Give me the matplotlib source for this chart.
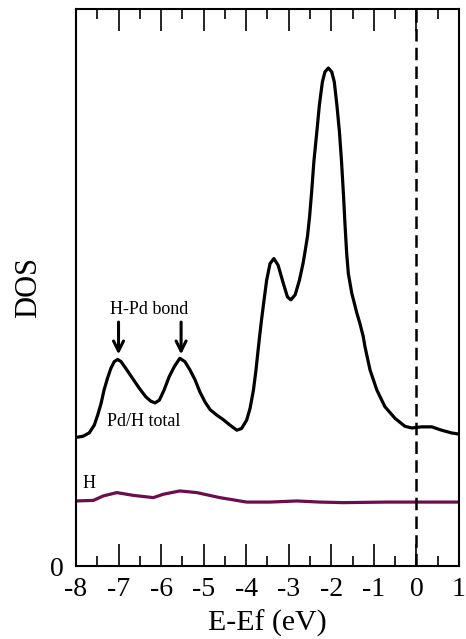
import matplotlib.pyplot as plt
from matplotlib.ticker import MultipleLocator

plt.rcParams["font.family"] = ["Liberation Serif", "DejaVu Serif"]
plt.rcParams["axes.unicode_minus"] = False

# total DOS (Pd/H)
energy_total = [-8.00, -7.84, -7.69, -7.57, -7.49, -7.41, -7.34, -7.26, -7.18, -7.10,
                -7.02, -6.94, -6.83, -6.67, -6.51, -6.36, -6.24, -6.14, -6.04, -5.93,
                -5.81, -5.69, -5.56, -5.44, -5.32, -5.20, -5.09, -4.97, -4.85, -4.69,
                -4.54, -4.38, -4.22, -4.11, -3.99, -3.91, -3.83, -3.77, -3.72, -3.69,
                -3.64, -3.58, -3.52, -3.44, -3.35, -3.25, -3.13, -3.03, -2.95, -2.85,
                -2.75, -2.66, -2.61, -2.56, -2.51, -2.46, -2.41, -2.34, -2.28, -2.21,
                -2.15, -2.07, -1.99, -1.93, -1.87, -1.81, -1.76, -1.71, -1.68, -1.64,
                -1.60, -1.52, -1.40, -1.33, -1.25, -1.21, -1.09, -0.93, -0.74, -0.50,
                -0.27, -0.11, 0.12, 0.36, 0.59, 0.83, 1.00]
dos_total = [2.31, 2.33, 2.39, 2.53, 2.71, 2.92, 3.16, 3.37, 3.55, 3.67,
             3.71, 3.67, 3.55, 3.37, 3.19, 3.04, 2.96, 2.93, 2.98, 3.16,
             3.40, 3.58, 3.73, 3.67, 3.52, 3.34, 3.13, 2.95, 2.81, 2.71,
             2.63, 2.53, 2.44, 2.47, 2.62, 2.83, 3.16, 3.52, 3.88, 4.09,
             4.42, 4.78, 5.13, 5.43, 5.52, 5.40, 5.08, 4.83, 4.78, 4.87,
             5.13, 5.45, 5.68, 5.92, 6.28, 6.74, 7.26, 7.80, 8.28, 8.69,
             8.87, 8.94, 8.87, 8.69, 8.28, 7.80, 7.26, 6.60, 6.15, 5.62,
             5.25, 4.90, 4.54, 4.36, 4.12, 3.94, 3.52, 3.16, 2.86, 2.65,
             2.51, 2.48, 2.50, 2.50, 2.44, 2.39, 2.37]

# H partial DOS
energy_h = [-8.00, -7.59, -7.36, -7.04, -6.65, -6.18, -5.95, -5.56, -5.16, -4.62,
            -3.99, -3.44, -2.81, -2.27, -1.72, -0.70, 0.0, 1.0]
dos_h = [1.17, 1.18, 1.26, 1.32, 1.27, 1.23, 1.29, 1.35, 1.32, 1.23,
         1.15, 1.15, 1.17, 1.15, 1.14, 1.15, 1.15, 1.15]

bond_peaks = [-7.0, -5.53]

fig = plt.figure(figsize=(4.66, 6.39), dpi=100)
ax = fig.add_axes([0.163, 0.114, 0.822, 0.872])

ax.plot(energy_total, dos_total, color="black", lw=2.3,
        solid_joinstyle="round", solid_capstyle="round")
ax.plot(energy_h, dos_h, color="#6b0d4f", lw=2.3, solid_joinstyle="round")
ax.axvline(0, color="black", lw=1.8, ls=(0, (5, 2.5)))

for e in bond_peaks:
    ax.annotate("", xy=(e, 3.80), xytext=(e, 4.38),
                arrowprops=dict(arrowstyle="->", lw=2.2, color="black",
                                mutation_scale=18, shrinkA=0, shrinkB=0))
ax.text(-6.28, 4.60, "H-Pd bond", fontsize=13, ha="center", va="center")
ax.text(-7.27, 2.60, "Pd/H total", fontsize=13, ha="left", va="center")
ax.text(-7.84, 1.49, "H", fontsize=13, ha="left", va="center")

ax.set_xlim(-8, 1)
ax.set_ylim(0, 10)
ax.xaxis.set_major_locator(MultipleLocator(1))
ax.xaxis.set_minor_locator(MultipleLocator(0.5))
ax.tick_params(axis="x", which="major", direction="in", length=15.8, width=1.2,
               top=True, labelsize=20, pad=8)
ax.tick_params(axis="x", which="minor", direction="in", length=7.2, width=1.2, top=True)
ax.set_yticks([0])
ax.set_yticklabels(["0"])
ax.tick_params(axis="y", length=0, labelsize=20, pad=9)
for s in ax.spines.values():
    s.set_linewidth(1.5)

ax.set_xlabel("E-Ef (eV)", fontsize=21.5, labelpad=5)
ax.set_ylabel("DOS", fontsize=22, labelpad=5)

fig.savefig("out.png", dpi=100)
